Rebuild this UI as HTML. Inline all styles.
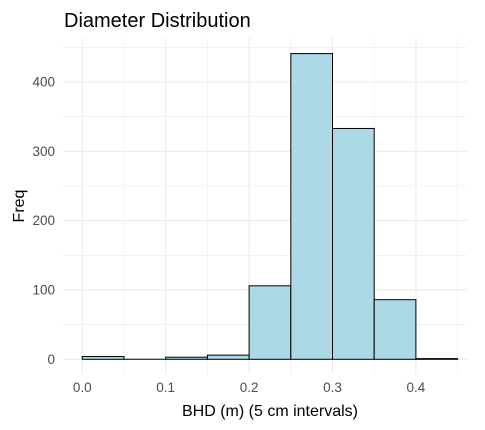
<!DOCTYPE html>
<html><head><meta charset="utf-8"><style>
body{margin:0;background:#fff;}
svg{display:block;font-family:"Liberation Sans",Arial,sans-serif;}
</style></head><body>
<svg id="c" width="485" height="430">
<text x="64" y="27" font-size="20" fill="#000">Diameter Distribution</text>
<g id="grid"></g><g id="bars"></g><g id="axes"></g>
<text x="270" y="416" font-size="16" text-anchor="middle" fill="#000">BHD (m) (5 cm intervals)</text>
<text transform="translate(24,206) rotate(-90)" font-size="16" text-anchor="middle" fill="#000">Freq</text>
</svg>
<script>
const binStarts=[0,0.05,0.1,0.15,0.2,0.25,0.3,0.35,0.4];
const counts=[4,0,3,6,106,441,333,86,1];
const xTicks=[0,0.1,0.2,0.3,0.4];
const xTickLabels=["0.0","0.1","0.2","0.3","0.4"];
const yTicks=[0,100,200,300,400];
const binWidth=0.05;
const NS="http://www.w3.org/2000/svg";
const L=63,R=467,T=38,B=374;
const x=v=>82.3+v*834;
const y=v=>359.3-v*0.6932;
function mk(t,a,p){const e=document.createElementNS(NS,t);for(const k in a)e.setAttribute(k,a[k]);p.appendChild(e);return e;}
const g=document.getElementById('grid'),bg=document.getElementById('bars'),ax=document.getElementById('axes');
for(let v=0;v<=0.451;v+=0.05){const major=Math.abs(v*10-Math.round(v*10))<1e-6;
 const l=mk('line',{x1:x(v),x2:x(v),y1:T,y2:B,stroke:'#ebebeb','stroke-width':major?1.1:0.6},g);
 
 }
for(let v=0;v<=450;v+=50){const major=v%100===0;
 const l=mk('line',{x1:L,x2:R,y1:y(v),y2:y(v),stroke:'#ebebeb','stroke-width':major?1.1:0.6},g);
 
 }
binStarts.forEach((s,i)=>{
 if(counts[i]===0){
  const z=mk('line',{x1:x(s),x2:x(s+binWidth),y1:y(0),y2:y(0),stroke:'#000','stroke-width':1},bg);
  
  
  return;
 }
 const r=mk('rect',{x:x(s),y:y(counts[i]),width:x(s+binWidth)-x(s),height:y(0)-y(counts[i]),fill:'#add8e6',stroke:'#000','stroke-width':1},bg);
 
 
});
xTicks.forEach((v,i)=>{const t=mk('text',{x:x(v),y:392,'font-size':13.5,fill:'#4d4d4d','text-anchor':'middle'},ax);t.textContent=xTickLabels[i];
 
 });
yTicks.forEach(v=>{const t=mk('text',{x:55,y:y(v)+4.5,'font-size':13.5,fill:'#4d4d4d','text-anchor':'end'},ax);t.textContent=v;
 
 });
</script>
</body></html>
